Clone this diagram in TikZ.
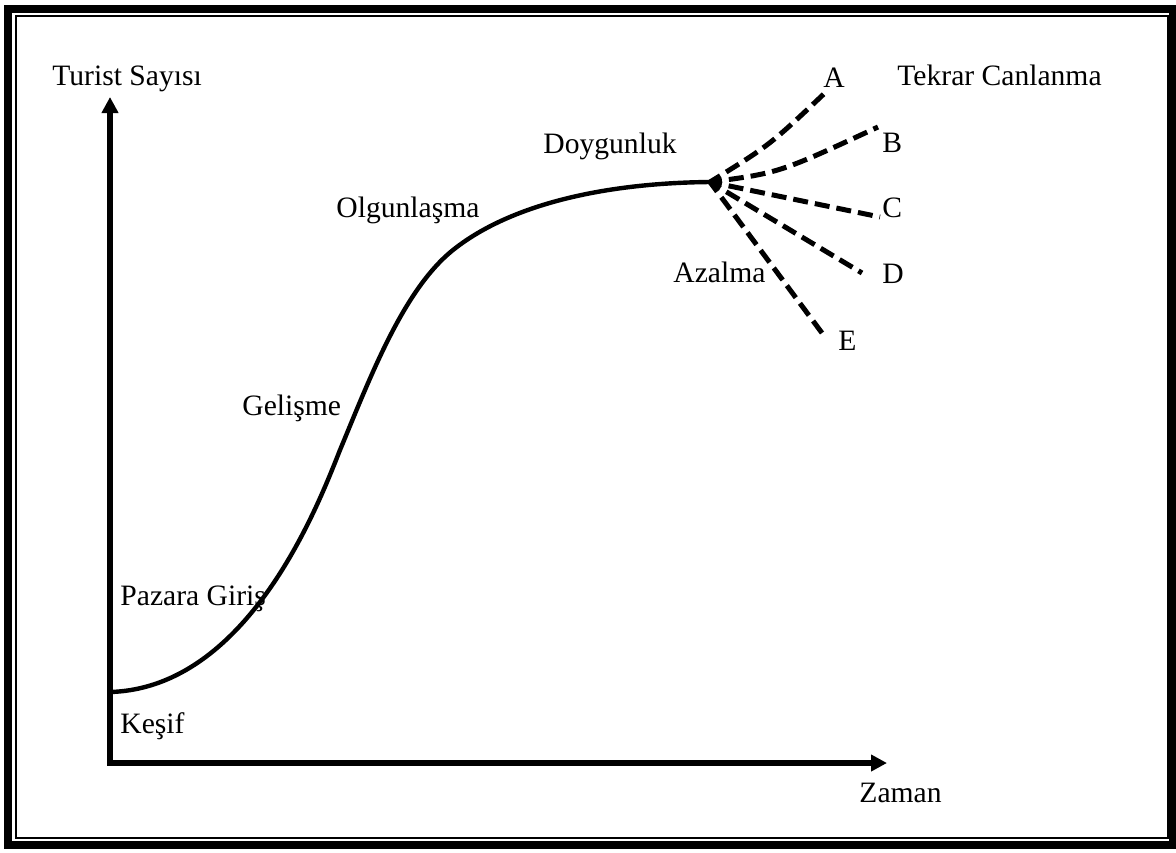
\documentclass[tikz,border=0pt]{standalone}
\usepackage{fontspec}
\setmainfont{Liberation Serif}
\usetikzlibrary{arrows.meta, positioning}
\tikzset{
	axis/.style={line width=3pt, {Triangle[length=8pt,width=8pt]}-{Triangle[length=8pt,width=8pt]}},
	phase/.style={anchor=base west, inner sep=0pt, font=\fontsize{14.8}{17}\selectfont},
	branch/.style={line width=2.5pt, dash pattern=on 7.5pt off 3.5pt, dash phase=1.5pt},
}
\begin{document}
\begin{tikzpicture}[x=0.5pt, y=-0.5pt]
	\useasboundingbox (0,0) rectangle (1176,852);
	\draw[line width=4pt] (7.5,8.5) rectangle (1173,845);
	\draw[line width=1pt] (16,16) rectangle (1168,838);
	\coordinate (ytop) at (110,97);
	\coordinate (o) at (110,763);
	\coordinate (xtip) at (887,763);
	\coordinate (start) at (110,692);
	\coordinate (infl) at (340,450);
	\coordinate (sat) at (710,182);
	\coordinate (a) at (828,90);
	\coordinate (b) at (878,127);
	\coordinate (c) at (880,217);
	\coordinate (d) at (862,273);
	\coordinate (e) at (822,333);
	\draw[axis] (ytop) -- (o) -- (xtip);
	\draw[line width=2.2pt] (start) .. controls (250,688) and (320,500) .. (infl)
		.. controls (370,378) and (403,290) .. (453,250)
		.. controls (508,206) and (600,183) .. (sat);
	\draw[branch] (sat) .. controls (770,145) .. (a);
	\draw[branch] (sat) .. controls (779,173) .. (b);
	\draw[branch] (sat) -- (c);
	\draw[branch] (sat) -- (d);
	\draw[branch] (sat) -- (e);
	\node[phase] (ylab) at (52,85) {Turist Sayısı};
	\node[phase] (xlab) at (859,802) {Zaman};
	\node[phase] (kesif) at (120,733) {Keşif};
	\node[phase] (giris) at (120,605) {Pazara Giriş};
	\node[phase] (gelisme) at (242,415) {Gelişme};
	\node[phase] (olgun) at (336,217) {Olgunlaşma};
	\node[phase] (doygun) at (543,153) {Doygunluk};
	\node[phase] (azalma) at (673,282) {Azalma};
	\node[phase] (canlanma) at (897,85) {Tekrar Canlanma};
	\node[phase] (la) at (823,87) {A};
	\node[phase] (lb) at (882,152) {B};
	\node[phase] (lc) at (882,217) {C};
	\node[phase] (ld) at (882,283) {D};
	\node[phase] (le) at (838,350) {E};
\end{tikzpicture}
\end{document}
